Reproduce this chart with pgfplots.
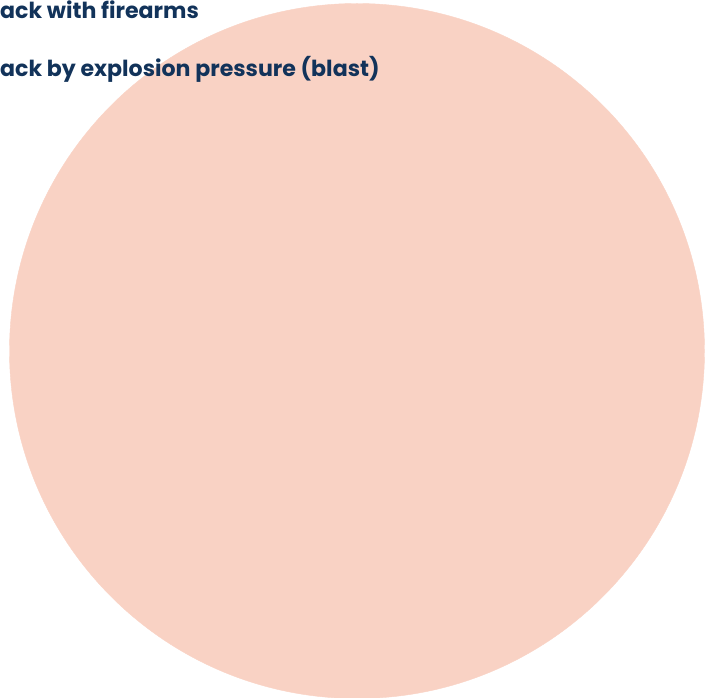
\documentclass[border=0pt]{standalone}
\usepackage{fontspec}
\setmainfont{Poppins}
\usepackage{pgfplots}
\pgfplotsset{compat=1.18}
\definecolor{peach}{HTML}{F9D2C4}
\definecolor{navy}{HTML}{12335A}
\begin{document}
\begin{tikzpicture}[x=1pt,y=1pt]
\begin{axis}[
  at={(0,0)}, anchor=south west,
  width=706pt, height=697pt, scale only axis,
  xmin=0, xmax=706, ymin=0, ymax=697,
  hide axis, clip=false,
]
\addplot[only marks, mark=*, mark size=347.5pt, color=peach, mark options={fill=peach, draw=none}]
  coordinates {(357,346)};
\end{axis}
\node[anchor=base west, inner sep=0, text=navy, font=\fontsize{22.1}{24}\selectfont\bfseries]
  at (0,678) {\llap{Att}ack with firearms};
\node[anchor=base west, inner sep=0, text=navy, font=\fontsize{22.1}{24}\selectfont\bfseries]
  at (0,620) {\llap{Att}ack by explosion pressure (blast)};
\pgfresetboundingbox
\path[use as bounding box] (0,0) rectangle (706,697);
\end{tikzpicture}
\end{document}
